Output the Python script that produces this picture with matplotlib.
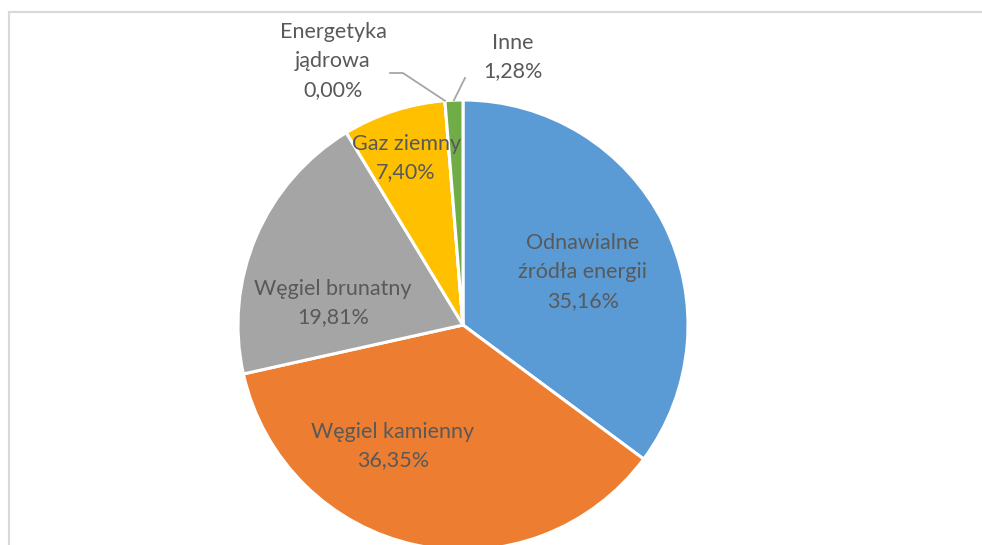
import numpy as np
import matplotlib.pyplot as plt

labels = ['Odnawialne\nźródła energii', 'Węgiel kamienny', 'Węgiel brunatny',
          'Gaz ziemny', 'Energetyka\njądrowa', 'Inne']
shares = [35.16, 36.35, 19.81, 7.40, 0.00, 1.28]
colors = ['#5B9BD5', '#ED7D31', '#A5A5A5', '#FFC000', '#4472C4', '#70AD47']

# label centres (fraction of radius) picked to follow the original layout
label_pos = [(0.533, 0.236), (-0.311, -0.538), (-0.578, 0.098),
             (-0.253, 0.742), (-0.578, 1.173), (0.222, 1.191)]

plt.rcParams['font.family'] = ['Lato', 'DejaVu Sans']
text_color = '#595959'

fig = plt.figure(figsize=(9.82, 5.45), dpi=100)
# light chart border (top and left visible, rest runs off the picture)
fig.add_artist(plt.Line2D([8.5 / 982, 8.5 / 982], [0, 1 - 12 / 545],
                          color='#d9d9d9', lw=1.5))
fig.add_artist(plt.Line2D([8.5 / 982, 1], [1 - 12 / 545, 1 - 12 / 545],
                          color='#d9d9d9', lw=1.5))

ax = fig.add_axes([238 / 982, -5 / 545, 450 / 982, 450 / 545])
wedges, _ = ax.pie(shares, colors=colors, startangle=90, counterclock=False,
                   radius=1.0, wedgeprops=dict(edgecolor='white', linewidth=2.2))
for w in wedges:
    w.set_clip_on(False)
ax.set_xlim(-1, 1)
ax.set_ylim(-1, 1)
ax.set_aspect('equal')
ax.axis('off')

for lab, val, (x, y) in zip(labels, shares, label_pos):
    txt = lab + '\n' + f'{val:.2f}'.replace('.', ',') + '%'
    ax.text(x, y, txt, ha='center', va='center', fontsize=15.5,
            color=text_color, linespacing=1.55, clip_on=False)

# leader lines for the two thin slices
def mid_point(w):
    a = np.deg2rad((w.theta1 + w.theta2) / 2)
    return np.cos(a), np.sin(a)

ex, ey = mid_point(wedges[4])
ax.plot([-0.324, -0.267, ex], [1.12, 1.12, ey], color='#a6a6a6', lw=1.3,
        clip_on=False)
ix, iy = mid_point(wedges[5])
ax.plot([0.009, ix], [1.098, iy], color='#a6a6a6', lw=1.3, clip_on=False)

fig.savefig('out.png', dpi=100)
